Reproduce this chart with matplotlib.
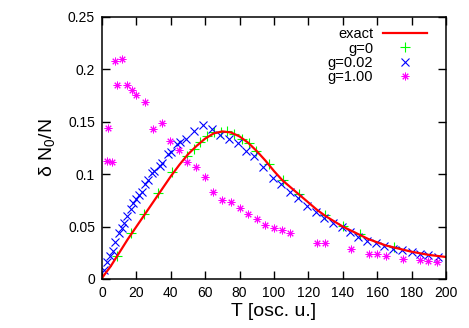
import matplotlib
matplotlib.use("Agg")
import matplotlib.pyplot as plt
from matplotlib.ticker import FixedLocator, FuncFormatter

plt.rcParams['font.family'] = ['Liberation Sans', 'DejaVu Sans']
plt.rcParams['mathtext.fontset'] = 'custom'
plt.rcParams['mathtext.rm'] = 'Liberation Sans'
plt.rcParams['mathtext.it'] = 'Liberation Sans'

# exact curve
T_exact = [0, 5, 10, 15, 20, 25, 30, 35, 40, 45, 50, 55, 60, 65, 70, 75, 80, 85, 90, 95,
           100, 105, 110, 115, 120, 125, 130, 135, 140, 145, 150, 155, 160, 165, 170, 175,
           180, 185, 190, 195, 200]
y_exact = [0.001, 0.012, 0.025, 0.038, 0.050, 0.062, 0.074, 0.086, 0.098, 0.109, 0.119, 0.127,
           0.134, 0.139, 0.1408, 0.1398, 0.136, 0.130, 0.122, 0.113, 0.103, 0.094, 0.087,
           0.080, 0.073, 0.066, 0.060, 0.055, 0.050, 0.046, 0.042, 0.038, 0.035, 0.032, 0.030,
           0.028, 0.026, 0.0245, 0.023, 0.022, 0.021]

# g = 0
T_g0 = [8.9, 17.1, 24.7, 32.7, 40.8, 49.2, 53.2, 57.2, 61.2, 64.9, 69.0, 72.9, 77.0, 81.2,
        85.2, 89.5, 97.3, 105.0, 114.8, 129.7, 140.0, 150.0, 169.8]
y_g0 = [0.022, 0.0435, 0.062, 0.082, 0.102, 0.117, 0.1245, 0.131, 0.136, 0.140, 0.1405, 0.141,
        0.138, 0.134, 0.130, 0.122, 0.110, 0.094, 0.081, 0.061, 0.0506, 0.0425, 0.031]

# g = 0.02
T_g002 = [1.2, 3.1, 4.7, 6.2, 7.6, 10.1, 11.5, 12.8, 14.7, 16.7, 18.2, 19.8, 21.5, 23.0, 25.0,
          26.5, 28.9, 30.5, 33.5, 35.0, 38.5, 40.0, 43.4, 45.5, 48.7, 53.5, 58.9, 63.8, 68.6,
          74.0, 79.2, 84.0, 88.6, 93.8, 99.4, 104.2, 109.3, 114.1, 119.4, 124.2, 129.0, 134.1,
          139.4, 144.2, 149.0, 154.2, 159.3, 164.1, 169.4, 174.2, 180.0, 184.9, 189.7, 195.5]
y_g002 = [0.0086, 0.0165, 0.022, 0.027, 0.0356, 0.0436, 0.0484, 0.0537, 0.060, 0.0665, 0.0722,
          0.076, 0.080, 0.0833, 0.091, 0.094, 0.1009, 0.103, 0.108, 0.111, 0.119, 0.121, 0.1285,
          0.131, 0.134, 0.141, 0.147, 0.143, 0.1375, 0.134, 0.1298, 0.122, 0.117, 0.1066,
          0.0965, 0.0905, 0.0833, 0.077, 0.0697, 0.0642, 0.0579, 0.053, 0.0493, 0.0451, 0.0404,
          0.0365, 0.034, 0.0315, 0.0283, 0.0277, 0.026, 0.0239, 0.0229, 0.0213]

# g = 1.00
T_g1 = [2.7, 3.7, 5.8, 7.7, 8.9, 11.6, 14.7, 17.6, 19.8, 24.8, 29.8, 34.9, 39.8, 44.9, 49.7,
        54.8, 59.9, 64.7, 69.9, 75.0, 80.0, 85.0, 90.0, 94.8, 99.8, 104.8, 109.5, 125.2, 129.8,
        145.0, 155.0, 160.0, 165.0, 175.0, 185.0, 189.7, 194.6]
y_g1 = [0.113, 0.144, 0.112, 0.208, 0.185, 0.210, 0.185, 0.180, 0.176, 0.169, 0.143, 0.149,
        0.132, 0.123, 0.112, 0.107, 0.097, 0.083, 0.075, 0.0735, 0.068, 0.062, 0.057, 0.052,
        0.049, 0.0467, 0.0436, 0.034, 0.034, 0.029, 0.024, 0.0235, 0.022, 0.019, 0.0177,
        0.0169, 0.016]

x_ticks = [0, 20, 40, 60, 80, 100, 120, 140, 160, 180, 200]
y_ticks = [0, 0.05, 0.1, 0.15, 0.2, 0.25]

fig = plt.figure(figsize=(4.69, 3.28), dpi=100)
ax = fig.add_axes([102/469, 1-279/328, 344/469, 262/328])

h_g0, = ax.plot(T_g0, y_g0, linestyle='none', marker='+', color='#00ff00',
                markersize=6.5, markeredgewidth=0.8, label='g=0')
h_g002, = ax.plot(T_g002, y_g002, linestyle='none', marker='x', color='#0000ff',
                  markersize=5.5, markeredgewidth=0.8, label='g=0.02')
h_g1, = ax.plot(T_g1, y_g1, linestyle='none', marker=(8, 2, 0), color='#ff00ff',
                markersize=5.5, markeredgewidth=0.7, label='g=1.00')
h_ex, = ax.plot(T_exact, y_exact, color='#ff0000', linewidth=1.6, label='exact')

ax.set_xlim(0, 200)
ax.set_ylim(0, 0.25)
ax.xaxis.set_major_locator(FixedLocator(x_ticks))
ax.yaxis.set_major_locator(FixedLocator(y_ticks))
ax.yaxis.set_major_formatter(FuncFormatter(lambda v, p: '%g' % round(v, 4)))
ax.tick_params(direction='in', length=6, width=1, top=True, right=True,
               labelsize=10, pad=5)
for s in ax.spines.values():
    s.set_linewidth(1.1)

ax.set_xlabel('T [osc. u.]', fontsize=14, labelpad=2)
ax.set_ylabel(r'δ N$_0$/N', fontsize=14, labelpad=8)

leg = ax.legend(handles=[h_ex, h_g0, h_g002, h_g1], loc='upper right',
                bbox_to_anchor=(0.975, 1.0), frameon=False, markerfirst=False,
                fontsize=10.5, handlelength=3.0, handletextpad=0.7,
                labelspacing=0.02, borderpad=0.2)

fig.savefig('out.png', dpi=100)
